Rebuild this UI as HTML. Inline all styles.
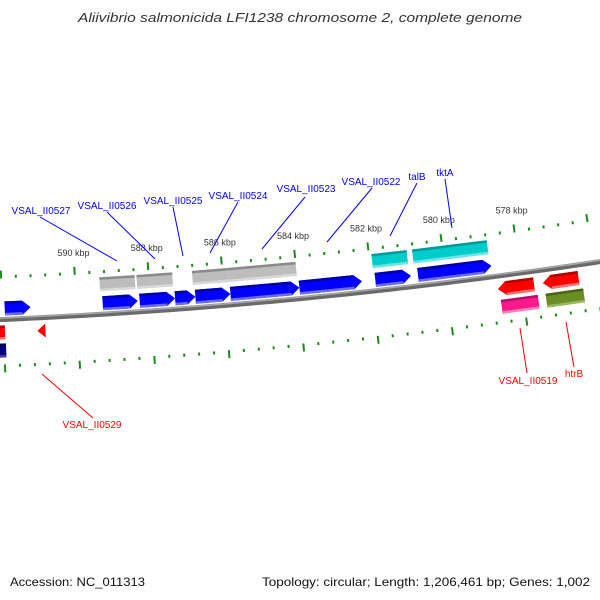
<!DOCTYPE html>
<html><head><meta charset="utf-8"><style>
html,body{margin:0;padding:0;background:#fff;}
svg{display:block;font-family:"Liberation Sans","DejaVu Sans",sans-serif;}
</style></head><body>
<svg id="map" width="600" height="600" viewBox="0 0 600 600" xmlns="http://www.w3.org/2000/svg">
<rect width="600" height="600" fill="#fff"/>
<text x="300" y="22" text-anchor="middle" font-size="13" font-style="italic" fill="#333" textLength="444" lengthAdjust="spacingAndGlyphs">Aliivibrio salmonicida LFI1238 chromosome 2, complete genome</text>
<g id="ticks"></g>
<g id="backbone"></g>
<g id="features"></g>
<g id="labels"></g>
<text x="10" y="586" font-size="12" fill="#111" textLength="135" lengthAdjust="spacingAndGlyphs">Accession: NC_011313</text>
<text x="590" y="586" text-anchor="end" font-size="12" fill="#111" textLength="328" lengthAdjust="spacingAndGlyphs">Topology: circular; Length: 1,206,461 bp; Genes: 1,002</text>
</svg>
<script>
// ---- data ----
const tickLabels = [590, 588, 586, 584, 582, 580, 578];
const fwdCdsStart = [591.94, 589.29, 588.29, 587.33, 586.78, 585.83, 583.96, 581.90, 580.74];
const fwdCdsEnd   = [591.24, 588.34, 587.33, 586.78, 585.83, 583.96, 582.26, 580.93, 578.74];
const fwdRow2Start = [589.34, 588.33, 586.82, 585.85, 581.93, 580.82];
const fwdRow2End   = [588.38, 587.36, 585.85, 584.00, 580.97, 578.78];
const fwdRow2Color = ["gray", "gray", "gray", "gray", "cyan", "cyan"];
const revCdsStart = [593.0, 591.09, 578.65, 577.43];
const revCdsEnd   = [591.96, 590.87, 577.67, 576.46];
const revCdsArrow = [false, true, true, true];
const revRow2Start = [593.0, 578.61, 577.40];
const revRow2End   = [591.95, 577.61, 576.38];
const revRow2Color = ["navy", "magenta", "olive"];
const labelNames = ["VSAL_II0527","VSAL_II0526","VSAL_II0525","VSAL_II0524","VSAL_II0523","VSAL_II0522","talB","tktA","VSAL_II0519","htrB","VSAL_II0529"];
const labelColors = ["blue","blue","blue","blue","blue","blue","blue","blue","red","red","red"];

// ---- geometry ----
const cx = -248, cy = -5383, R0 = 5708;
const phi584 = Math.acos((299 - cx) / R0);
const dphi = 37.1 / R0;
function P(kbp, off) {
  const phi = phi584 + (kbp - 584) * dphi;
  const r = R0 + off;
  return [cx + r * Math.cos(phi), cy + r * Math.sin(phi)];
}
const NS = "http://www.w3.org/2000/svg";
function mk(tag, attrs, parent) {
  const e = document.createElementNS(NS, tag);
  for (const k in attrs) e.setAttribute(k, attrs[k]);
  parent.appendChild(e);
  return e;
}
function pts(arr) { return arr.map(p => p[0].toFixed(2) + "," + p[1].toFixed(2)).join(" "); }

// backbone
const bb = document.getElementById("backbone");
const bbPts = [];
for (let k = 594; k >= 574; k -= 0.25) bbPts.push(P(k, 0));
let el = mk("polyline", {points: pts(bbPts), fill: "none", stroke: "#6a6a6a", "stroke-width": 5}, bb);


const bbPts2 = [];
for (let k = 594; k >= 574; k -= 0.25) bbPts2.push(P(k, -1.5));
el = mk("polyline", {points: pts(bbPts2), fill: "none", stroke: "#a8a8a8", "stroke-width": 1.5}, bb);



// ticks
const tg = document.getElementById("ticks");
const green = "#1a8c1a";
for (let i = 0; i <= 50; i++) {
  const k = 594 - i * 0.4;
  const major = (i % 5 === 0);
  // inner (upper) ring
  let a = P(k, -41), b = P(k, major ? -49 : -44);
  el = mk("line", {x1: a[0], y1: a[1], x2: b[0], y2: b[1], stroke: green, "stroke-width": 2}, tg);
  
  
  // outer (lower) ring
  a = P(k, 45); b = P(k, major ? 53 : 48);
  el = mk("line", {x1: a[0], y1: a[1], x2: b[0], y2: b[1], stroke: green, "stroke-width": 2}, tg);
  
  
}
tickLabels.forEach(k => {
  const p = P(k, -63);
  el = mk("text", {x: p[0], y: p[1] + 3, "text-anchor": "middle", "font-size": 9, fill: "#333"}, tg);
  el.textContent = k + " kbp";
  
  
});

// features
const fg = document.getElementById("features");
const palette = {
  blue: ["#0000ff", "#0000a8", "#6a6aff"],
  gray: ["#bdbdbd", "#8a8a8a", "#d8d8d8"],
  cyan: ["#00cccc", "#009a9a", "#66e6e6"],
  red: ["#ff0000", "#b00000", "#ff7070"],
  navy: ["#000080", "#000050", "#4040a0"],
  magenta: ["#ff1a8c", "#b0106a", "#ff80c0"],
  olive: ["#6b8e23", "#4a6615", "#9ab860"]
};
const HEAD = 0.22;
// dir: +1 arrow points toward lower kbp (right), -1 toward higher kbp (left), 0 none
function feature(s, e, r1, r2, col, dir, name) {
  const c = palette[col];
  const hi = Math.max(s, e), lo = Math.min(s, e);
  const mid = (r1 + r2) / 2;
  let shape;
  let bodyHi = hi, bodyLo = lo;
  if (dir === 1) {
    bodyLo = Math.min(hi, lo + HEAD);
    shape = [P(hi, r1), P(bodyLo, r1), P(lo, mid), P(bodyLo, r2), P(hi, r2)];
  } else if (dir === -1) {
    bodyHi = Math.max(lo, hi - HEAD);
    shape = [P(bodyHi, r1), P(lo, r1), P(lo, r2), P(bodyHi, r2), P(hi, mid)];
  } else {
    shape = [P(hi, r1), P(lo, r1), P(lo, r2), P(hi, r2)];
  }
  const g = mk("g", {}, fg);
  
  
  mk("polygon", {points: pts(shape), fill: c[0]}, g);
  if (bodyHi - bodyLo > 0.01) {
    mk("polygon", {points: pts([P(bodyHi, r1), P(bodyLo, r1), P(bodyLo, r1 + 2.5), P(bodyHi, r1 + 2.5)]), fill: c[1]}, g);
    mk("polygon", {points: pts([P(bodyHi, r2 - 2.5), P(bodyLo, r2 - 2.5), P(bodyLo, r2), P(bodyHi, r2)]), fill: c[2]}, g);
  }
}
fwdCdsStart.forEach((s, i) => feature(s, fwdCdsEnd[i], -18, -4, "blue", 1, "forward-cds-" + i));
fwdRow2Start.forEach((s, i) => feature(s, fwdRow2End[i], -37, -23, fwdRow2Color[i], 0, "forward-feature-" + i));
revCdsStart.forEach((s, i) => feature(s, revCdsEnd[i], 6, 20, "red", revCdsArrow[i] ? -1 : 0, "reverse-cds-" + i));
revRow2Start.forEach((s, i) => feature(s, revRow2End[i], 24, 38, revRow2Color[i], 0, "reverse-feature-" + i));

// labels (annotation text + leader lines)
const labelX = [41, 107, 173, 238, 306, 371, 417, 445, 528, 574, 92];
const labelY = [214, 209, 204, 199, 192, 185, 180, 176, 384, 377, 428];
const lineFrom = [[40,217],[107,212],[173,207],[238,202],[305,197],[372,188],[417,183],[445,179],[527,373],[574,367],[93,418]];
const lineTo = [[117,261],[155,259],[183,256],[210,253],[262,249],[327,242],[390,236],[452,228],[520,328],[566,322],[42,374]];
const lg = document.getElementById("labels");
labelNames.forEach((n, i) => {
  const col = labelColors[i] === "blue" ? "#0000ff" : "#ff0000";
  el = mk("line", {x1: lineFrom[i][0], y1: lineFrom[i][1], x2: lineTo[i][0], y2: lineTo[i][1], stroke: col, "stroke-width": 1}, lg);
  
  
  el = mk("text", {x: labelX[i], y: labelY[i], "text-anchor": "middle", "font-size": 10, fill: col}, lg);
  el.textContent = n;
  
  
});
</script>
</body></html>
